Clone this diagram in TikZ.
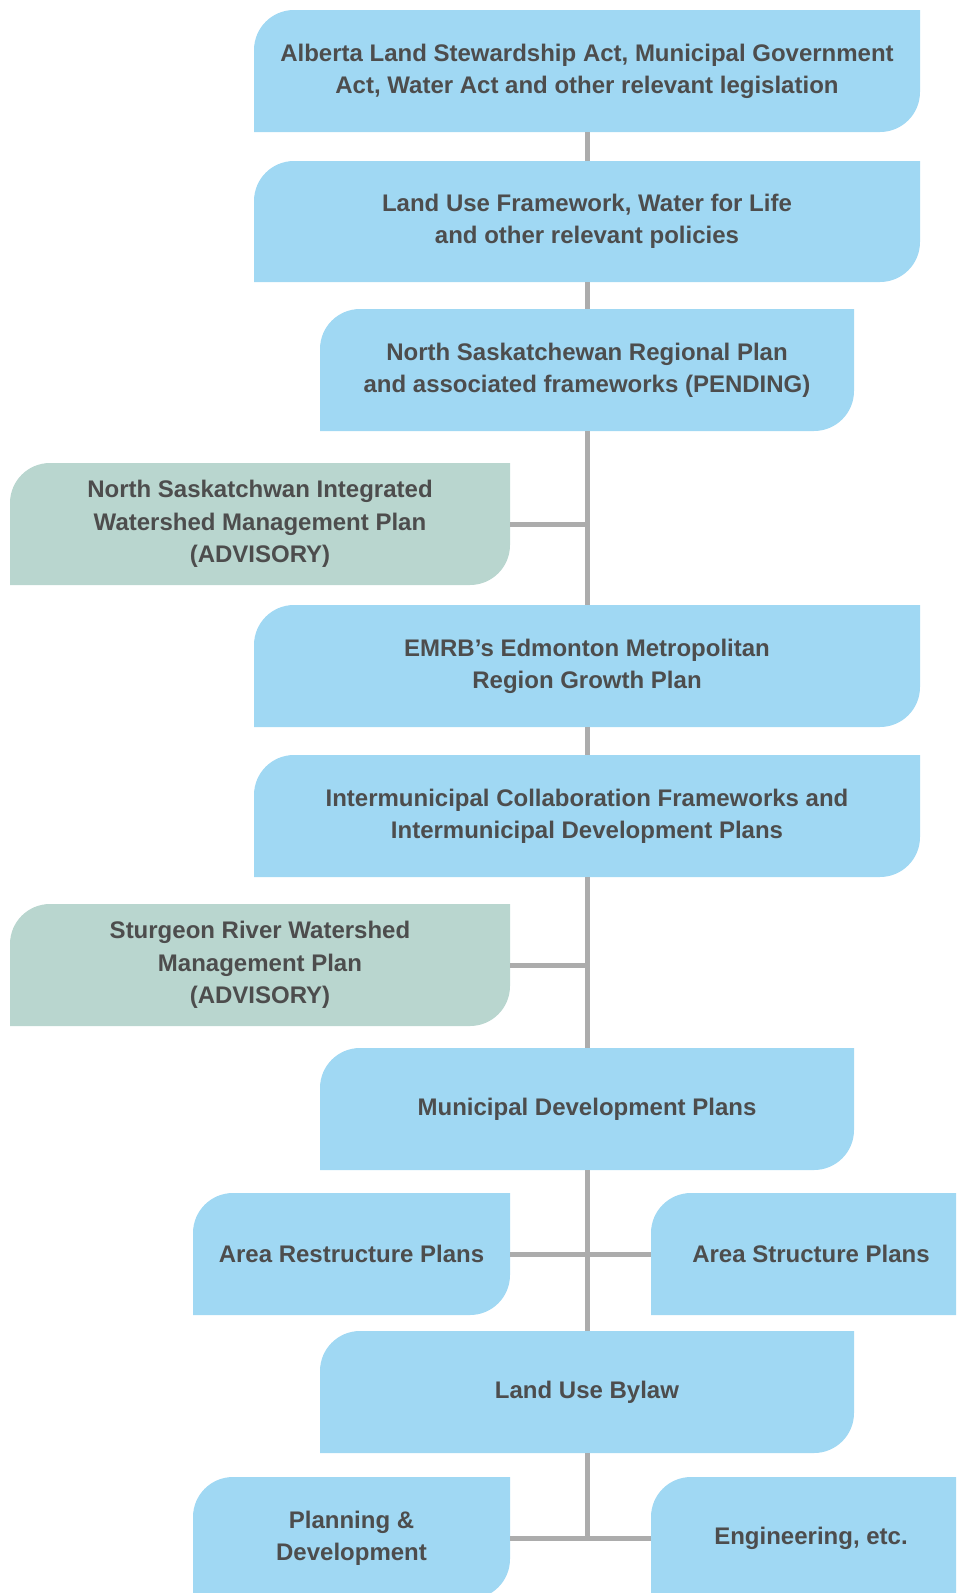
\documentclass[tikz,border=0pt]{standalone}
\usepackage{fontspec}
\setmainfont{Liberation Sans}
\definecolor{planblue}{RGB}{160,216,243}
\definecolor{plangreen}{RGB}{185,214,207}
\definecolor{textgray}{RGB}{77,77,77}
\definecolor{linegray}{RGB}{172,172,172}
\begin{document}
\begin{tikzpicture}
[x=1pt,y=1pt,%
  boxText/.style={align=center,text=textgray,inner sep=0pt,%
    font=\bfseries\fontsize{24}{32.3}\selectfont},%
  lineDecorate/.style={-,line width=5pt,draw=linegray}]
\useasboundingbox (0,0) rectangle (956,-1593);
\clip (0,0) rectangle (956,-1593);
%% boxes, rounded top left and bottom right
\foreach \boxname/\cx/\cy/\boxw/\boxh/\boxext/\boxcolor/\boxtext in {
  legis/587/-71/666/122/0/planblue/{Alberta Land Stewardship Act, Municipal Government\\Act, Water Act and other relevant legislation},
  policy/587/-221.5/666/121/0/planblue/{Land Use Framework, Water for Life\\and other relevant policies},
  regional/587/-370/534/122/0/planblue/{North Saskatchewan Regional Plan\\and associated frameworks (PENDING)},
  nsiwmp/260/-524/500/122/0/plangreen/{North Saskatchwan Integrated\\Watershed Management Plan\\(ADVISORY)},
  growth/587/-666/666/122/0/planblue/{EMRB’s Edmonton Metropolitan\\Region Growth Plan},
  icf/587/-816/666/122/0/planblue/{Intermunicipal Collaboration Frameworks and\\Intermunicipal Development Plans},
  srwmp/260/-965/500/122/0/plangreen/{Sturgeon River Watershed\\Management Plan\\(ADVISORY)},
  mdp/587/-1109/534/122/0/planblue/{Municipal Development Plans},
  arp/351.5/-1254/317/122/0/planblue/{Area Restructure Plans},
  asp/811/-1254/320/122/80/planblue/{Area Structure Plans},
  lub/587/-1392/534/122/0/planblue/{Land Use Bylaw},
  pd/351.5/-1538/317/122/0/planblue/{Planning \&\\Development},
  eng/811/-1538/320/122/80/planblue/{Engineering, etc.}}
{
  \fill[\boxcolor] ({\cx-\boxw/2},{\cy-\boxh/2}) -- ({\cx-\boxw/2},{\cy+\boxh/2-40})
    arc[start angle=180,end angle=90,radius=40] -- ({\cx+\boxw/2+\boxext},{\cy+\boxh/2})
    -- ({\cx+\boxw/2+\boxext},{\cy-\boxh/2+40})
    arc[start angle=0,end angle=-90,radius=40] -- cycle;
  \node (\boxname) at (\cx,\cy) [boxText,minimum width=\boxw pt,minimum height=\boxh pt] {\boxtext};
}
%% trunk and branches
\coordinate (trunkend) at (legis.south |- pd.east);
\draw[lineDecorate] (legis.south) -- (policy.north);
\draw[lineDecorate] (policy.south) -- (regional.north);
\draw[lineDecorate] (regional.south) -- (growth.north);
\draw[lineDecorate] (growth.south) -- (icf.north);
\draw[lineDecorate] (icf.south) -- (mdp.north);
\draw[lineDecorate] (mdp.south) -- (lub.north);
\draw[lineDecorate] (lub.south) -- (trunkend);
\draw[lineDecorate] (nsiwmp.east) -- (nsiwmp.east -| legis.south);
\draw[lineDecorate] (srwmp.east) -- (srwmp.east -| legis.south);
\draw[lineDecorate] (arp.east) -- (asp.west);
\draw[lineDecorate] (pd.east) -- (eng.west);
\end{tikzpicture}
\end{document}
